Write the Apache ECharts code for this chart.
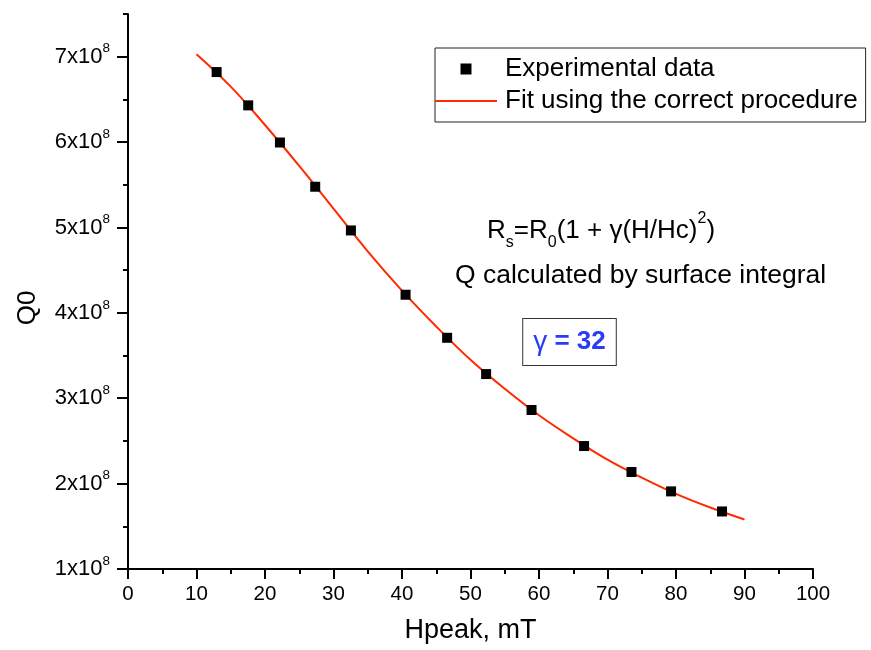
<!DOCTYPE html>
<html>
<head>
<meta charset="utf-8">
<script src="https://cdn.jsdelivr.net/npm/echarts@6/dist/echarts.min.js"></script>
<style>html,body{margin:0;padding:0;background:#fff}#c{width:871px;height:650px}</style>
</head>
<body>
<div id="c"></div>
<script>
// Experimental data: Hpeak (mT) and Q0 (in units of 1e8)
var hpeak = [12.94, 17.55, 22.18, 27.33, 32.54, 40.52, 46.59, 52.28, 58.91, 66.58, 73.50, 79.28, 86.72];
var q0 = [6.82, 6.43, 5.995, 5.477, 4.965, 4.212, 3.708, 3.283, 2.862, 2.440, 2.136, 1.909, 1.674];
// Fit curve (Q0 in units of 1e8)
var fitH = [10, 15, 20, 25, 30, 35, 40, 45, 50, 55, 60, 65, 70, 75, 80, 85, 90];
var fitQ = [7.03, 6.65, 6.20, 5.72, 5.22, 4.72, 4.26, 3.84, 3.45, 3.11, 2.80, 2.53, 2.28, 2.07, 1.88, 1.72, 1.58];
var yMajor = [1, 2, 3, 4, 5, 6, 7];
var seriesNames = ['Experimental data', 'Fit using the correct procedure'];
var SCALE = 1e8;

var FONT = "'Liberation Sans', Arial, sans-serif";
var chart = echarts.init(document.getElementById('c'), null, {renderer: 'canvas'});

var expData = hpeak.map(function (h, i) { return [h, q0[i] * SCALE]; });
var fitData = fitH.map(function (h, i) { return [h, fitQ[i] * SCALE]; });

var option = {
  backgroundColor: '#fff',
  animation: false,
  textStyle: {fontFamily: FONT, color: '#000'},
  grid: {left: 128, right: 58, top: 14, bottom: 81, containLabel: false},
  legend: {
    left: 435, top: 48,
    orient: 'vertical',
    padding: [8, 8, 8, 0],
    itemGap: 6,
    itemWidth: 62, itemHeight: 11,
    symbolKeepAspect: true,
    borderColor: '#222', borderWidth: 1,
    textStyle: {fontFamily: FONT, fontSize: 26, color: '#000', padding: [0, 0, 0, 3]},
    data: [
      {name: seriesNames[0], icon: 'path://M0,0H10V10H0Z', itemStyle: {color: '#000', opacity: 1}},
      {name: seriesNames[1], icon: 'path://M0,0H62V2H0Z'}
    ]
  },
  xAxis: {
    type: 'value', min: 0, max: 100, interval: 10,
    name: 'Hpeak, mT', nameLocation: 'middle', nameGap: 48,
    nameTextStyle: {fontFamily: FONT, fontSize: 27, color: '#000'},
    splitLine: {show: false},
    axisLine: {onZero: false, lineStyle: {color: '#000', width: 2}},
    axisTick: {inside: false, length: 10, lineStyle: {color: '#000', width: 2}},
    minorTick: {show: true, splitNumber: 2, length: 5, lineStyle: {color: '#000', width: 2}},
    axisLabel: {fontFamily: FONT, fontSize: 20.5, color: '#000', margin: 15}
  },
  yAxis: [{
    type: 'value', min: 1 * SCALE, max: 7.5 * SCALE, interval: 0.5 * SCALE,
    splitLine: {show: false},
    axisLine: {onZero: false, lineStyle: {color: '#000', width: 2}},
    axisTick: {inside: false, length: 5, lineStyle: {color: '#000', width: 2}},
    axisLabel: {
      margin: 18,
      formatter: function (v) {
        var n = Math.round(v / SCALE * 1000) / 1000;
        if (yMajor.indexOf(n) < 0) return '';
        return '{b|' + n + 'x10}{s|8}';
      },
      rich: {
        b: {fontFamily: FONT, fontSize: 22, color: '#000', lineHeight: 30, verticalAlign: 'middle'},
        s: {fontFamily: FONT, fontSize: 13.5, color: '#000', lineHeight: 13, verticalAlign: 'top'}
      }
    }
  }, {
    type: 'value', min: 1 * SCALE, max: 7.5 * SCALE, position: 'left', offset: 0,
    splitLine: {show: false},
    axisLine: {show: false},
    axisLabel: {show: false},
    axisTick: {show: true, inside: false, length: 11, lineStyle: {color: '#000', width: 2},
      customValues: yMajor.map(function (v) { return v * SCALE; })}
  }],
  graphic: [
    {type: 'text', x: 28, y: 308, rotation: Math.PI / 2,
     style: {text: 'Q0', font: '26px ' + FONT, fill: '#000', align: 'center', verticalAlign: 'middle'}},
    {type: 'text', x: 487, y: 231,
     style: {
       text: '{m|R}{sub|s}{m|=R}{sub|0}{m|(1 + γ(H/Hc)}{sup|2}{m|)}',
       align: 'left', verticalAlign: 'middle',
       rich: {
         m: {fontFamily: FONT, fontSize: 26, fill: '#000', lineHeight: 40, verticalAlign: 'middle'},
         sub: {fontFamily: FONT, fontSize: 16, fill: '#000', lineHeight: 12, verticalAlign: 'bottom'},
         sup: {fontFamily: FONT, fontSize: 16, fill: '#000', lineHeight: 32, verticalAlign: 'top'}
       }
     }},
    {type: 'text', x: 455, y: 276,
     style: {text: 'Q calculated by surface integral', font: '26.5px ' + FONT, fill: '#000', align: 'left', verticalAlign: 'middle'}},
    {type: 'text', x: 569.5, y: 342,
     style: {
       text: '{g|γ}{n| = 32}',
       align: 'center', verticalAlign: 'middle',
       borderColor: '#333', borderWidth: 1, padding: [9, 10, 9, 10], backgroundColor: '#fff',
       rich: {
         g: {fontFamily: FONT, fontSize: 28, fill: '#2a3cf5', fontWeight: 'normal'},
         n: {fontFamily: FONT, fontSize: 26, fill: '#2a3cf5', fontWeight: 'bold'}
       }
     }}
  ],
  series: [
    {
      name: seriesNames[1], type: 'line', data: fitData,
      symbol: 'none', smooth: 0.4,
      lineStyle: {color: '#ff2a00', width: 2},
      itemStyle: {color: '#ff2a00'},
      z: 2
    },
    {
      name: seriesNames[0], type: 'scatter', data: expData,
      symbol: 'rect', symbolSize: 10,
      itemStyle: {color: '#000', opacity: 1},
      z: 3
    }
  ]
};
chart.setOption(option);
</script>
</body>
</html>
